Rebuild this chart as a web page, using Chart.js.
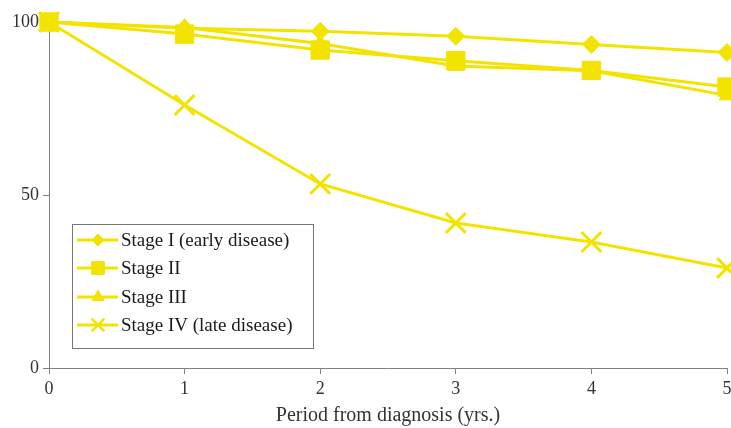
<!DOCTYPE html>
<html lang="en">
<head>
  <meta charset="UTF-8" />
  <title>Survival by stage</title>
  <script src="https://cdn.jsdelivr.net/npm/chart.js@4.4.0/dist/chart.umd.min.js"></script>
  <style>
    body {
      margin: 0;
      background: #ffffff;
      overflow: hidden;
    }
    canvas {
      display: block;
    }
  </style>
</head>
<body>
  <!-- a bit wider than the window: the reference crops the right edge -->
  <canvas id="stageChart" width="744" height="428"></canvas>

  <script>
    // Data
    const years = [0, 1, 2, 3, 4, 5];
    const stageI = [100, 98.2, 97.3, 95.9, 93.5, 91.2];
    const stageII = [100, 96.5, 91.9, 88.8, 86.0, 81.2];
    const stageIII = [100, 98.4, 93.8, 87.3, 85.9, 78.8];
    const stageIV = [100, 76.0, 53.2, 41.9, 36.4, 28.9];
    const yTicks = [0, 50, 100];

    const seriesNames = ['Stage I (early disease)', 'Stage II', 'Stage III', 'Stage IV (late disease)'];
    const yellow = '#f2e400';
    const serif = "'Liberation Serif', 'DejaVu Serif', serif";

    function toPoints(vals) {
      return years.map((x, i) => ({ x: x, y: vals[i] }));
    }

    function makeSet(label, vals, style, radius) {
      return {
        label: label,
        data: toPoints(vals),
        borderColor: yellow,
        backgroundColor: yellow,
        pointBackgroundColor: yellow,
        pointBorderColor: yellow,
        borderWidth: 3,
        pointBorderWidth: style === 'crossRot' ? 3 : 1,
        pointStyle: style,
        pointRadius: radius,
        pointHoverRadius: radius,
        tension: 0,
        fill: false,
        clip: false
      };
    }

    // legend drawn inside the plot, as in the reference
    const insideLegend = {
      id: 'insideLegend',
      afterDraw(chart) {
        const ctx = chart.ctx;
        const box = { left: 72.5, top: 224.5, right: 313.5, bottom: 348.5 };
        ctx.save();
        ctx.strokeStyle = '#777777';
        ctx.lineWidth = 1;
        ctx.strokeRect(box.left, box.top, box.right - box.left, box.bottom - box.top);

        const rows = [240, 268, 297, 325];
        const legendRadius = [6, 9, 7, 9];
        ctx.font = '19px ' + serif;
        ctx.textBaseline = 'middle';
        chart.data.datasets.forEach((ds, i) => {
          const y = rows[i];
          ctx.strokeStyle = yellow;
          ctx.lineWidth = 3;
          ctx.beginPath();
          ctx.moveTo(77, y);
          ctx.lineTo(118, y);
          ctx.stroke();
          ctx.fillStyle = yellow;
          ctx.lineWidth = ds.pointStyle === 'crossRot' ? 2.5 : 1;
          Chart.helpers.drawPoint(ctx, { pointStyle: ds.pointStyle, radius: legendRadius[i], rotation: 0, borderWidth: ctx.lineWidth }, 98, y);
          ctx.fillStyle = '#1a1a1a';
          ctx.fillText(ds.label, 121, y + 1);
        });
        ctx.restore();
      }
    };

    new Chart(document.getElementById('stageChart'), {
      type: 'line',
      data: {
        datasets: [
          makeSet(seriesNames[0], stageI, 'rectRot', 9),
          makeSet(seriesNames[1], stageII, 'rect', 13),
          makeSet(seriesNames[2], stageIII, 'triangle', 9),
          makeSet(seriesNames[3], stageIV, 'crossRot', 14)
        ]
      },
      options: {
        responsive: false,
        animation: false,
        layout: { padding: { top: 22, right: 4, left: 0, bottom: 0 } },
        plugins: {
          legend: { display: false },
          tooltip: { enabled: false }
        },
        scales: {
          x: {
            type: 'linear',
            min: 0,
            max: 5,
            afterFit(scale) { scale.height = 60; },
            grid: {
              drawOnChartArea: false,
              drawTicks: true,
              tickLength: 6,
              color: '#808080'
            },
            border: { color: '#808080', width: 1 },
            ticks: {
              stepSize: 1,
              padding: 4,
              color: '#333333',
              font: { family: serif, size: 18 }
            },
            title: {
              display: true,
              text: 'Period from diagnosis (yrs.)',
              color: '#333333',
              padding: { top: 3, bottom: 0 },
              font: { family: serif, size: 20 }
            }
          },
          y: {
            min: 0,
            max: 100,
            afterFit(scale) { scale.width = 49; },
            afterBuildTicks(scale) {
              scale.ticks = yTicks.map(v => ({ value: v }));
            },
            grid: {
              drawOnChartArea: false,
              drawTicks: true,
              tickLength: 6,
              color: '#808080'
            },
            border: { color: '#808080', width: 1 },
            ticks: {
              padding: 4,
              color: '#333333',
              font: { family: serif, size: 18 }
            }
          }
        }
      },
      plugins: [insideLegend]
    });
  </script>
</body>
</html>
